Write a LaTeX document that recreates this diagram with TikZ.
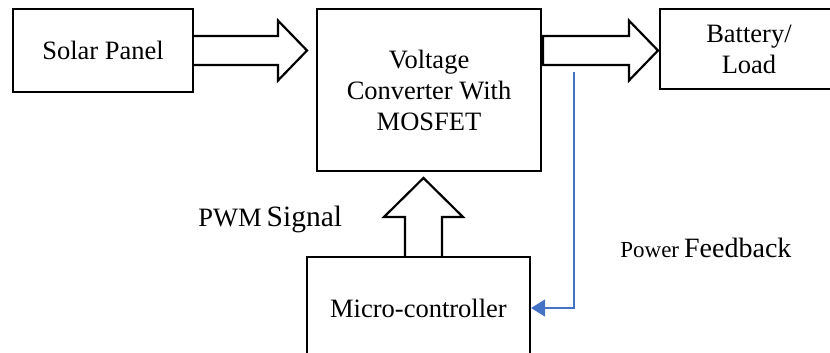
\documentclass[tikz,border=0pt]{standalone}
\usepackage{fontspec}
\setmainfont{Liberation Serif}
\usetikzlibrary{arrows.meta}
\pgfdeclarelayer{edgelayer}
\pgfdeclarelayer{nodelayer}
\pgfsetlayers{edgelayer,nodelayer,main}
\definecolor{fbblue}{RGB}{68,114,196}
\tikzstyle{block}=[rectangle, fill=white, draw=black, line width=1.1pt, inner sep=0pt, align=center, font={\rmfamily\fontsize{13.25}{15.5}\selectfont}]
\tikzstyle{note}=[inner sep=0pt, anchor=base west, font=\rmfamily]
\tikzstyle{fat}=[draw=black, fill=white, line width=1.1pt]
\tikzstyle{feedback}=[draw=fbblue, line width=0.6pt, -{Triangle[length=7pt,width=8.5pt]}]

\begin{document}
\begin{tikzpicture}
				\useasboundingbox (0, 0) rectangle (14.586, 6.186);
				\begin{pgfonlayer}{nodelayer}
					\node [style=block, minimum width=3.163cm, minimum height=1.459cm] (0) at (1.810, 5.298) {Solar Panel};
					\node [style=block, minimum width=3.936cm, minimum height=2.847cm] (1) at (7.539, 4.604) {Voltage\\Converter With\\MOSFET};
					\node [style=block, minimum width=3.128cm, minimum height=1.406cm] (2) at (13.162, 5.325) {Battery/\\Load};
					\node [style=block, minimum width=3.919cm, minimum height=1.792cm] (3) at (7.354, 0.773) {Micro-controller};
					\node [style=note] (4) at (3.479, 2.197) {{\fontsize{13.25}{15}\selectfont PWM} {\fontsize{14.75}{17}\selectfont Signal}};
					\node [style=note] (5) at (10.895, 1.652) {{\fontsize{11.5}{13}\selectfont Power} {\fontsize{14}{16}\selectfont Feedback}};
					\coordinate (6) at (5.395, 5.298);
					\coordinate (7) at (9.542, 5.298);
					\coordinate (8) at (11.563, 5.298);
					\coordinate (9) at (7.442, 1.669);
					\coordinate (10) at (7.442, 3.058);
					\coordinate (11) at (10.087, 4.920);
				\end{pgfonlayer}
				\begin{pgfonlayer}{edgelayer}
					\draw [style=fat] ([yshift=2.55mm]0.east) -- ([shift={(-5.1mm,2.55mm)}]6) -- ([shift={(-5.1mm,5.27mm)}]6) -- (6) -- ([shift={(-5.1mm,-5.27mm)}]6) -- ([shift={(-5.1mm,-2.55mm)}]6) -- ([yshift=-2.55mm]0.east);
					\draw [style=fat] ([yshift=2.55mm]7) -- ([shift={(-5.1mm,2.55mm)}]8) -- ([shift={(-5.1mm,5.27mm)}]8) -- (8) -- ([shift={(-5.1mm,-5.27mm)}]8) -- ([shift={(-5.1mm,-2.55mm)}]8) -- ([yshift=-2.55mm]7) -- cycle;
					\draw [style=fat] ([xshift=-3.25mm]9) -- ([shift={(-3.25mm,-6.85mm)}]10) -- ([shift={(-6.94mm,-6.85mm)}]10) -- (10) -- ([shift={(6.94mm,-6.85mm)}]10) -- ([shift={(3.25mm,-6.85mm)}]10) -- ([xshift=3.25mm]9);
					\draw [style=feedback] (11) |- (3.east);
				\end{pgfonlayer}
			\end{tikzpicture}
\end{document}
